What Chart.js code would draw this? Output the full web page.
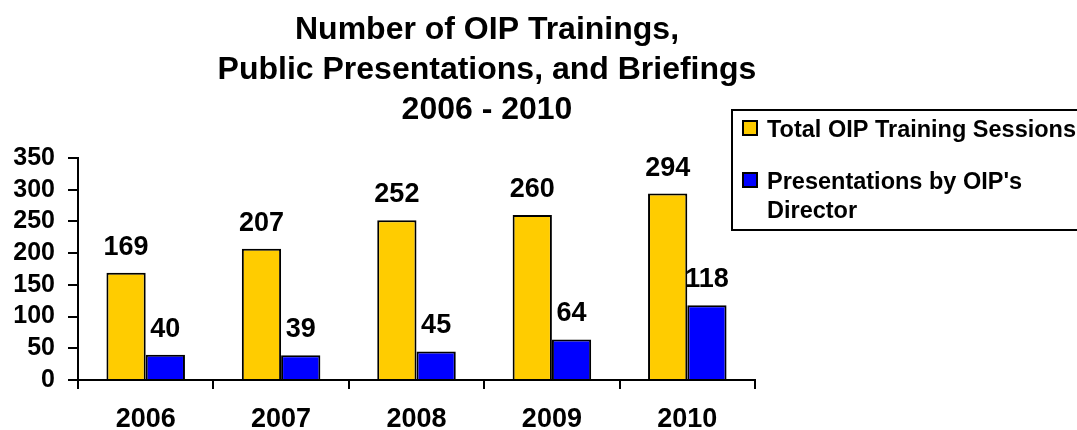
<!DOCTYPE html>
<html>
<head>
<meta charset="utf-8">
<script src="https://cdn.jsdelivr.net/npm/chart.js@4/dist/chart.umd.min.js"></script>
<style>
  html, body { margin: 0; padding: 0; background: #fff; }
  #wrap { width: 1077px; height: 430px; position: relative; }
</style>
</head>
<body>
<div id="wrap"><canvas id="c" width="1077" height="430"></canvas></div>
<script>
const categories = ['2006', '2007', '2008', '2009', '2010'];
const trainingSessions = [169, 207, 252, 260, 294];
const directorPresentations = [40, 39, 45, 64, 118];
const seriesNames = ['Total OIP Training Sessions', "Presentations by OIP's Director"];
const titleLines = ['Number of OIP Trainings,', 'Public Presentations, and Briefings', '2006 - 2010'];
const yTicks = [0, 50, 100, 150, 200, 250, 300, 350];

const FONT = '"Liberation Sans", Arial, Helvetica, sans-serif';
const YELLOW = '#FFCC00';
const BLUE = '#0000FF';

const overlay = {
  id: 'overlay',
  afterDatasetsDraw(chart) {
    const ctx = chart.ctx;
    ctx.save();
    // value labels
    ctx.fillStyle = '#000';
    ctx.font = 'bold 27px ' + FONT;
    ctx.textAlign = 'center';
    ctx.textBaseline = 'alphabetic';
    chart.data.datasets.forEach((ds, di) => {
      const meta = chart.getDatasetMeta(di);
      meta.data.forEach((el, i) => {
        ctx.fillText(String(ds.data[i]), el.x, el.y - 18);
      });
    });
    // title
    ctx.font = 'bold 32px ' + FONT;
    titleLines.forEach((t, i) => ctx.fillText(t, 487, 39 + i * 40));
    // legend
    ctx.lineWidth = 2;
    ctx.strokeStyle = '#000';
    ctx.strokeRect(732, 110, 400, 120);
    ctx.fillStyle = YELLOW;
    ctx.fillRect(743, 121, 14, 14);
    ctx.strokeRect(743, 121, 14, 14);
    ctx.fillStyle = BLUE;
    ctx.fillRect(743, 173, 14, 14);
    ctx.strokeRect(743, 173, 14, 14);
    ctx.fillStyle = '#000';
    ctx.font = 'bold 23.5px ' + FONT;
    ctx.textAlign = 'left';
    ctx.fillText(seriesNames[0], 767, 137);
    ctx.fillText('Presentations by OIP\'s', 767, 189);
    ctx.fillText('Director', 767, 218);
    ctx.restore();
  }
};

new Chart(document.getElementById('c'), {
  type: 'bar',
  data: {
    labels: categories,
    datasets: [
      { label: seriesNames[0], data: trainingSessions, backgroundColor: YELLOW, borderColor: '#000', borderWidth: 2 },
      { label: seriesNames[1], data: directorPresentations, backgroundColor: BLUE, borderColor: '#000', borderWidth: 2 }
    ]
  },
  options: {
    responsive: false,
    animation: false,
    events: [],
    layout: { padding: { top: 158, right: 322, left: 0, bottom: 0 } },
    plugins: { legend: { display: false }, title: { display: false }, tooltip: { enabled: false } },
    datasets: { bar: { categoryPercentage: 0.58, barPercentage: 1.0 } },
    scales: {
      x: {
        grid: { drawOnChartArea: false, drawTicks: true, tickLength: 9, color: '#000', lineWidth: 2, offset: true },
        border: { color: '#000', width: 2 },
        ticks: { color: '#000', font: { family: FONT, size: 27, weight: 'bold' }, padding: 14, maxRotation: 0, autoSkip: false },
        afterFit(s) { s.height = 50; }
      },
      y: {
        min: 0, max: 350,
        afterBuildTicks(s) { s.ticks = yTicks.map(v => ({ value: v })); },
        grid: { drawOnChartArea: false, drawTicks: true, tickLength: 10, color: '#000', lineWidth: 2 },
        border: { color: '#000', width: 2 },
        ticks: { color: '#000', font: { family: FONT, size: 25, weight: 'bold' }, padding: 13, autoSkip: false },
        afterFit(s) { s.width = 78; }
      }
    }
  },
  plugins: [overlay]
});
</script>
</body>
</html>
